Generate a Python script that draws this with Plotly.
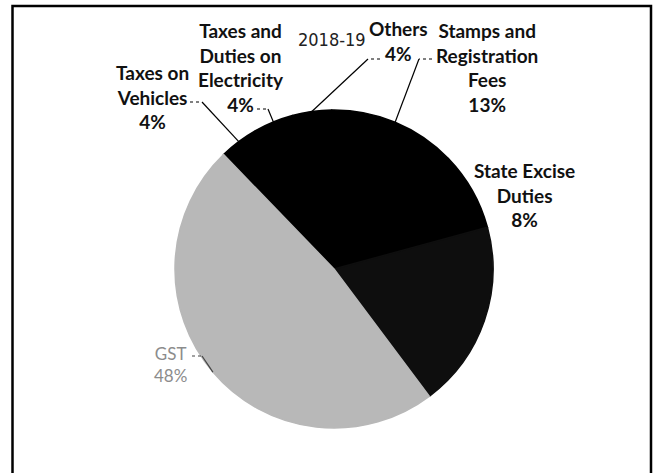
import math
import plotly.graph_objects as go

# ---- data ----
categories = ["Taxes on Vehicles", "Taxes and Duties on Electricity", "Others",
              "Stamps and Registration Fees", "State Excise Duties", "Sales Tax/VAT", "GST"]
shares = [4, 4, 4, 13, 8, 19, 48]
label_texts = ["Taxes on<br>Vehicles<br>4%", "Taxes and<br>Duties on<br>Electricity<br>4%",
               "Others<br>4%", "Stamps and<br>Registration<br>Fees<br>13%",
               "State Excise<br>Duties<br>8%", "", "GST<br>48%"]
title_text = "2018-19"

# ---- layout / style ----
W, H = 661, 473
CX, CY, R = 334, 269, 159          # pie centre and radius in pixels
START = -44                        # clockwise start angle from 12 o'clock
colors = ["#000000", "#000000", "#000000", "#000000", "#000000", "#0e0e0e", "#b8b8b8"]

# label block centres (px) and leader elbows (dash start, dash end)
label_pos = [(152, 97), (241, 67), (398, 41), (487, 67), (524, 195), None, (170, 364)]
leaders = [((190, 102), (202, 102)), ((257, 109), (268, 109)), ((380, 59), (368, 59)),
           ((432, 59), (419, 59)), None, None, ((192, 356), (202, 356))]
label_colors = ["#111", "#111", "#111", "#111", "#111", "#111", "#8c8c8c"]


def px(x):
    return x / W


def py(y):
    return 1 - y / H


fig = go.Figure(go.Pie(
    labels=categories, values=shares, sort=False, direction="clockwise",
    rotation=START, textinfo="none", hoverinfo="label+percent",
    marker=dict(colors=colors, line=dict(width=1.5, color=colors)),
    domain=dict(x=[px(CX - R), px(CX + R)], y=[py(CY + R), py(CY - R)]),
    showlegend=False,
))

annotations = []
shapes = []
total = sum(shares)
cum = 0
for i, v in enumerate(shares):
    mid = math.radians(START + 360 * (cum + v / 2) / total)
    cum += v
    if label_pos[i] is not None and label_texts[i]:
        lx, ly = label_pos[i]
        bold = i != len(shares) - 1
        annotations.append(dict(
            x=px(lx), y=py(ly), xref="paper", yref="paper", showarrow=False,
            text=label_texts[i], xanchor="center", yanchor="middle",
            font=dict(family="Lato, Open Sans, sans-serif", size=19 if bold else 17,
                      color=label_colors[i], weight="bold" if bold else "normal"),
        ))
    if leaders[i] is not None:
        (x0, y0), (x1, y1) = leaders[i]
        tx, ty = CX + R * math.sin(mid), CY - R * math.cos(mid)
        lc = "#000" if i != len(shares) - 1 else "#444"
        shapes.append(dict(type="line", xref="paper", yref="paper",
                           x0=px(x0), y0=py(y0), x1=px(x1), y1=py(y1),
                           line=dict(color=lc, width=1, dash="dot")))
        shapes.append(dict(type="line", xref="paper", yref="paper",
                           x0=px(x1), y0=py(y1), x1=px(tx), y1=py(ty),
                           line=dict(color=lc, width=1.2)))

annotations.append(dict(
    x=px(332), y=py(39), xref="paper", yref="paper", showarrow=False,
    text=title_text, xanchor="center", yanchor="middle",
    font=dict(family="Liberation Sans Narrow, DejaVu Sans Condensed, sans-serif",
              size=18, color="#222"),
))

# outer frame
shapes.append(dict(type="rect", xref="paper", yref="paper",
                   x0=px(12.5), x1=px(651), y0=-0.05, y1=py(6),
                   line=dict(color="#000", width=2.5), fillcolor="rgba(0,0,0,0)"))

fig.update_layout(
    width=W, height=H, margin=dict(l=0, r=0, t=0, b=0),
    paper_bgcolor="white", plot_bgcolor="white",
    annotations=annotations, shapes=shapes,
)

fig.write_html("out.html", config={"displayModeBar": False},
               post_script="document.body.style.margin='0';")
